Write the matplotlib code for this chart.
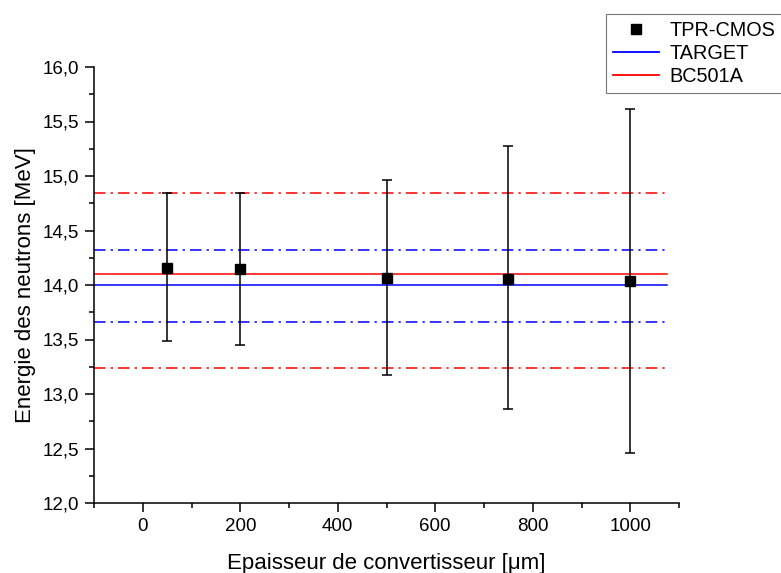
import matplotlib
matplotlib.use("Agg")
import matplotlib.pyplot as plt
from matplotlib.ticker import MultipleLocator, FuncFormatter
from matplotlib.lines import Line2D

plt.rcParams['font.family'] = ['Liberation Sans', 'DejaVu Sans']

# Data
thickness = [50, 200, 500, 750, 1000]
energy = [14.16, 14.145, 14.06, 14.055, 14.04]
err_top = [14.847, 14.841, 14.963, 15.275, 15.615]
err_bottom = [13.483, 13.45, 13.177, 12.86, 12.456]

target_value = 14.0
target_band = [13.66, 14.32]
bc501a_value = 14.1
bc501a_band = [13.24, 14.845]
line_span = [-100, 1075]

xlim = [-100, 1100]
ylim = [12.0, 16.0]

fig = plt.figure(figsize=(7.81, 5.73), dpi=100)
ax = fig.add_axes([94/781, 1-503/573, (679-94)/781, (503-67)/573])

lower = [e - b for e, b in zip(energy, err_bottom)]
upper = [t - e for e, t in zip(energy, err_top)]

dash = (0, (7.6, 3.3, 1.5, 3.3))
lw = 1.1
for v in bc501a_band:
    ax.plot(line_span, [v, v], color='#ff0000', lw=lw, linestyle=dash, zorder=2)
for v in target_band:
    ax.plot(line_span, [v, v], color='#0000ff', lw=lw, linestyle=dash, zorder=2)
ax.plot(line_span, [bc501a_value]*2, color='#ff0000', lw=lw, zorder=2)
ax.plot(line_span, [target_value]*2, color='#0000ff', lw=lw, zorder=2)

ax.errorbar(thickness, energy, yerr=[lower, upper], fmt='s', color='black',
            ms=6.5, elinewidth=1.1, capsize=3.6, capthick=1.1, zorder=3)

ax.set_xlim(xlim)
ax.set_ylim(ylim)
ax.spines['top'].set_visible(False)
ax.spines['right'].set_visible(False)
for s in ['left', 'bottom']:
    ax.spines[s].set_linewidth(1.1)

ax.xaxis.set_major_locator(MultipleLocator(200))
ax.xaxis.set_minor_locator(MultipleLocator(100))
ax.yaxis.set_major_locator(MultipleLocator(0.5))
ax.yaxis.set_minor_locator(MultipleLocator(0.25))
ax.yaxis.set_major_formatter(FuncFormatter(lambda v, p: f"{v:.1f}".replace('.', ',')))
ax.tick_params(which='major', direction='out', length=6.5, width=1.1, labelsize=13.5, pad=4)
ax.tick_params(which='minor', direction='out', length=3.5, width=1.1)

ax.set_xlabel('Epaisseur de convertisseur [\u03bcm]', fontsize=16, labelpad=13)
ax.set_ylabel('Energie des neutrons [MeV]', fontsize=16, labelpad=5)

handles = [
    Line2D([], [], marker='s', color='black', linestyle='none', ms=6.5),
    Line2D([], [], color='#0000ff', lw=1.3),
    Line2D([], [], color='#ff0000', lw=1.3),
]
leg = fig.legend(handles, ['TPR-CMOS', 'TARGET', 'BC501A'], loc='upper left',
                 bbox_to_anchor=(606/781, 1-14/573), fontsize=14.3, frameon=True,
                 fancybox=False, edgecolor='#555555', handlelength=2.35,
                 borderpad=0.33, labelspacing=0.22, handletextpad=0.5,
                 borderaxespad=0)
leg.get_frame().set_linewidth(0.8)

fig.savefig('out.png', dpi=100)
